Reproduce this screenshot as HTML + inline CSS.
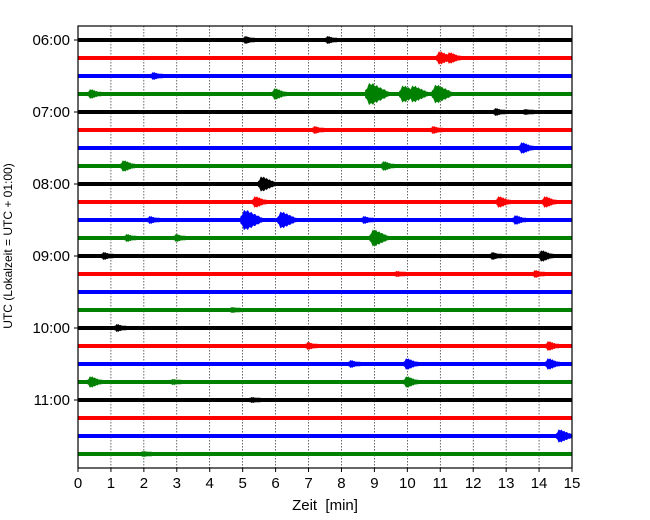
<!DOCTYPE html>
<html><head><meta charset="utf-8"><style>
body{margin:0;background:#fff;}
svg{display:block;font-family:"Liberation Sans","DejaVu Sans",sans-serif;}
</style></head><body>
<svg id="chart" width="650" height="520">
</svg>
<script>
const rowLabels = ["06:00","07:00","08:00","09:00","10:00","11:00"];
const xTicks = [0,1,2,3,4,5,6,7,8,9,10,11,12,13,14,15];
const rowColors = ["#000000","#ff0000","#0000ff","#008000"];
const rowCount = 24;
// event minutes and amplitudes per row (amplitude in trace units)
const eventMinutes = [[5.1,7.6],[11.0,11.3],[2.3],[0.4,6.0,8.9,9.9,10.2,10.9],[12.7,13.6],[7.2,10.8],[13.5],[1.4,9.3],[5.6],[5.4,12.8,14.2],[2.2,5.1,6.2,8.7,13.3],[1.5,3.0,9.0],[0.8,12.6,14.1],[9.7,13.9],[],[4.7],[1.2],[7.0,14.3],[8.3,10.0,14.3],[0.4,2.9,10.0],[5.3],[],[14.9],[2.0]];
const eventAmps = [[4,4],[7,6],[4],[5,6,12,9,9,10],[4,3],[4,4],[6],[6,5],[8],[6,6,6],[4,11,9,4,5],[4,4,9],[4,4,6],[3,4],[],[3],[4],[4,5],[4,6,6],[6,3,6],[3],[],[7],[3]];

const NS="http://www.w3.org/2000/svg";
const svg=document.getElementById('chart');
const L=78,R=572,T=26,B=468,row0=40,rowH=18;
const xs=m=>L+(R-L)*m/15;
const ys=r=>row0+r*rowH;
function mk(tag,attrs){const e=document.createElementNS(NS,tag);for(const k in attrs)e.setAttribute(k,attrs[k]);svg.appendChild(e);return e;}

xTicks.forEach(t=>{
  if(t>0&&t<15){const g=mk('line',{x1:xs(t),x2:xs(t),y1:T,y2:B,stroke:'#000','stroke-width':0.6,'stroke-dasharray':'1.5,1.5'});
  
  }
});
for(let r=0;r<rowCount;r++){
  const c=rowColors[r%4],y=ys(r);
  const ln=mk('line',{x1:L,x2:R,y1:y,y2:y,stroke:c,'stroke-width':4});
  
  
  eventMinutes[r].forEach((m,i)=>{
    const a=eventAmps[r][i];
    const w=6+a*1.4;const x0=Math.min(xs(m)-w*0.25,R-w);
    const top=[],bot=[];const n=12;
    for(let k=0;k<=n;k++){
      const f=k/n;const env=f<0.2?a*(0.3+0.7*f/0.2):a*(1-(f-0.2)/0.8*0.8);
      const ee=Math.max(2,env*(k%2?0.75:1));
      top.push((x0+f*w)+','+(y-ee));bot.unshift((x0+f*w)+','+(y+ee));
    }
    const p=mk('polygon',{points:top.concat(bot).join(' '),fill:c,stroke:c,'stroke-width':0.6});
    
    
  });
}
const fr=mk('rect',{x:L,y:T,width:R-L,height:B-T,fill:'none',stroke:'#000','stroke-width':1.2});


xTicks.forEach(t=>{
  mk('line',{x1:xs(t),x2:xs(t),y1:B,y2:B+4,stroke:'#000','stroke-width':1});
  const tx=mk('text',{x:xs(t),y:B+20,'text-anchor':'middle','font-size':15});
  tx.textContent=t;
  
  
});
rowLabels.forEach((s,i)=>{
  const y=ys(i*4);
  mk('line',{x1:L-4,x2:L,y1:y,y2:y,stroke:'#000','stroke-width':1});
  const tx=mk('text',{x:L-8,y:y+5,'text-anchor':'end','font-size':15});
  tx.textContent=s;
  
  
});
const xt=mk('text',{x:325,y:510,'text-anchor':'middle','font-size':15,'xml:space':'preserve'});
xt.textContent='Zeit\u00a0 [min]';


const yt=mk('text',{x:12,y:246,'text-anchor':'middle','font-size':12,transform:'rotate(-90 12 246)'});
yt.textContent='UTC (Lokalzeit = UTC + 01:00)';


</script>
</body></html>
